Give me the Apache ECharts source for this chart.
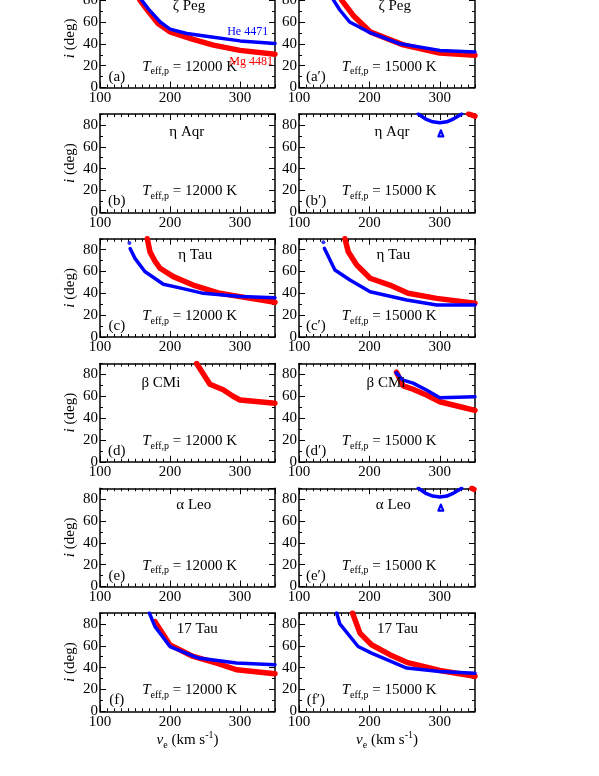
<!DOCTYPE html>
<html>
<head>
<meta charset="utf-8">
<script src="https://cdn.jsdelivr.net/npm/echarts@6/dist/echarts.min.js"></script>
<style>
html, body { margin: 0; padding: 0; background: #fff; }
#wrap { position: relative; width: 599px; height: 776px; overflow: hidden; }
#chart { position: absolute; left: 0; top: -11px; width: 599px; height: 787px; }
</style>
</head>
<body>
<div id="wrap"><div id="chart"></div></div>
<script>
// axes
var xMin = 100, xMax = 350, xMajor = 100, xMinorStep = 10;
var yMin = 0, yMax = 90, yMajor = 20, yMinorStep = 10;

var stars = ['ζ Peg', 'η Aqr', 'η Tau', 'β CMi', 'α Leo', '17 Tau'];
var tags = ['a', 'b', 'c', 'd', 'e', 'f'];
var temps = ['12000', '15000'];
var lineNames = ['He 4471', 'Mg 4481'];

// curves [v_e, i]  (12 = Teff,p 12000 K, 15 = 15000 K)
var zetaPegHe12 = [[153, 90], [159.5, 80], [169, 72], [186, 60], [200, 53.5], [224, 49.5], [257, 46.4], [300, 42.7], [350, 40.3]];
var zetaPegMg12 = [[151, 90], [157, 80], [167.6, 71], [183, 58.7], [200, 51], [233, 44], [262, 38.8], [300, 34], [350, 30.5]];
var zetaPegHe15 = [[143, 90], [149, 80], [158, 71], [172, 60], [201, 50.2], [243.5, 40], [300, 34], [350, 32.5]];
var zetaPegMg15 = [[155, 90], [160.6, 80], [177, 66], [201, 51], [248, 39], [300, 31.5], [350, 29.5]];

var etaAqrHe15 = [[269.5, 90], [281, 85], [290, 82.8], [300, 82], [310, 82.8], [318, 85], [331, 90]];
var etaAqrHeLoop15 = [[298, 69.5], [301.5, 75], [305, 69.5], [298, 69.5]];
var etaAqrMg15 = [[341, 90], [350, 88]];

var etaTauHe12 = [[143, 81], [150, 72], [164, 60], [190.5, 48.3], [214, 45], [247.6, 40], [300, 37], [350, 36]];
var etaTauHeDot12 = [[142, 86]];
var etaTauMg12 = [[167.6, 90], [171.4, 78], [178, 70], [185.7, 63], [204.8, 55.3], [233, 47.6], [271, 40], [300, 37], [350, 31.8]];
var etaTauHe15 = [[136, 81.2], [151, 61.4], [172.4, 52.2], [201, 41.5], [253, 33.9], [295.6, 29.3], [350, 29.3]];
var etaTauHeDot15 = [[134.6, 86.7]];
var etaTauMg15 = [[165.3, 90], [170, 78], [182, 66], [201, 53.8], [229, 47.6], [255, 40], [295.6, 35.4], [350, 30.9]];

var betaCMiMg12 = [[238, 90], [257, 71], [276, 66], [290, 60], [300, 56.6], [350, 53.5]];
var betaCMiHe15 = [[238, 81.5], [247, 75], [262, 72], [281, 65.7], [300, 58.7], [350, 59.6]];
var betaCMiMg15 = [[238.5, 82], [248, 69.5], [262, 66.4], [281, 61.1], [300, 55], [329, 50.4], [350, 47]];

var alphaLeoHe15 = [[269.5, 90], [281, 85], [290, 82.8], [300, 82], [310, 82.8], [318, 85], [331, 90]];
var alphaLeoHeLoop15 = [[298, 69.5], [301.5, 75], [305, 69.5], [298, 69.5]];
var alphaLeoMg15 = [[345.5, 90], [348.5, 89]];

var tau17He12 = [[170.5, 90], [178.6, 77.5], [200, 59.3], [240.5, 48.7], [295, 44.1], [350, 42.6]];
var tau17Mg12 = [[178.6, 82], [200, 60.8], [233, 50.2], [266.7, 44.1], [295, 38], [350, 34.4]];
var tau17He15 = [[153.5, 90], [158, 80], [184, 59.3], [203, 53.3], [253, 39.6], [300, 36.4], [350, 34.9]];
var tau17Mg15 = [[176, 90], [186.6, 71.6], [203, 60.9], [229, 51.8], [253, 44.8], [300, 37.3], [350, 32]];

// panel table, row by row, left (12000 K) then right (15000 K)
var panels = [
  { he: [zetaPegHe12], mg: [zetaPegMg12], dots: [] },
  { he: [zetaPegHe15], mg: [zetaPegMg15], dots: [] },
  { he: [], mg: [], dots: [] },
  { he: [etaAqrHe15], loops: [etaAqrHeLoop15], mg: [etaAqrMg15], dots: [] },
  { he: [etaTauHe12], mg: [etaTauMg12], dots: etaTauHeDot12 },
  { he: [etaTauHe15], mg: [etaTauMg15], dots: etaTauHeDot15 },
  { he: [], mg: [betaCMiMg12], dots: [] },
  { he: [betaCMiHe15], mg: [betaCMiMg15], dots: [] },
  { he: [], mg: [], dots: [] },
  { he: [alphaLeoHe15], loops: [alphaLeoHeLoop15], mg: [alphaLeoMg15], dots: [] },
  { he: [tau17He12], mg: [tau17Mg12], dots: [] },
  { he: [tau17He15], mg: [tau17Mg15], dots: [] }
];

// where the star name sits in each panel (data coords)
var nameAt = [[227, 74.5], [236, 74.5], [224, 73], [232, 73], [236, 75], [234, 75],
              [187, 72], [223.5, 72], [234, 74.5], [234, 74.5], [239, 75.3], [240, 75.3]];

var FONT = '"Liberation Serif", "DejaVu Serif", serif';
var BLUE = '#0000ff', RED = '#ff0000';

var chart = echarts.init(document.getElementById('chart'));
var option = { animation: false, grid: [], xAxis: [], yAxis: [], series: [] };

function tickAxis(base) {
  return Object.assign({
    type: 'value',
    splitLine: { show: false },
    axisLine: { show: false, onZero: false },
    axisLabel: { show: false },
    axisTick: { show: true, inside: true, length: 3, lineStyle: { color: '#000', width: 1 } }
  }, base);
}

function curve(g, d, color, width, z) {
  return {
    type: 'line', xAxisIndex: 4 * g, yAxisIndex: 4 * g, data: d, symbol: 'none', silent: true, z: z,
    lineStyle: { color: color, width: width, cap: 'round', join: 'round' }
  };
}

for (var g = 0; g < 12; g++) {
  var r = Math.floor(g / 2), c = g % 2;
  option.grid.push({
    left: c ? 299 : 100, width: c ? 176 : 175,
    top: 0.25 + r * 124.75, height: 98.25,
    outerBoundsMode: 'none', containLabel: false
  });
  var frame = { show: true, onZero: false, lineStyle: { color: '#000', width: 1.5 } };
  var majorTick = { show: true, inside: true, length: 6, lineStyle: { color: '#000', width: 1 } };
  // x: bottom major, bottom minor, top major, top minor
  option.xAxis.push(tickAxis({
    gridIndex: g, position: 'bottom', min: xMin, max: xMax, interval: xMajor,
    axisLine: frame, axisTick: majorTick,
    axisLabel: { show: true, margin: 3, color: '#000', fontSize: 15, fontFamily: FONT, showMaxLabel: false },
    name: r === 5 ? '{v|v}{e|e} (km s{p|-1})' : '',
    nameLocation: 'middle', nameGap: 16,
    nameTextStyle: {
      color: '#000', fontSize: 15, fontFamily: FONT, lineHeight: 20,
      rich: {
        v: { fontStyle: 'italic', fontSize: 15, fontFamily: FONT, lineHeight: 20 },
        e: { fontSize: 10, fontFamily: FONT, lineHeight: 10, verticalAlign: 'bottom' },
        p: { fontSize: 10, fontFamily: FONT, lineHeight: 10, verticalAlign: 'top' }
      }
    }
  }));
  option.xAxis.push(tickAxis({ gridIndex: g, position: 'bottom', min: xMin, max: xMax, interval: xMinorStep }));
  option.xAxis.push(tickAxis({ gridIndex: g, position: 'top', min: xMin, max: xMax, interval: xMajor, axisLine: frame, axisTick: majorTick }));
  option.xAxis.push(tickAxis({ gridIndex: g, position: 'top', min: xMin, max: xMax, interval: xMinorStep }));
  // y: left major, left minor, right major, right minor
  option.yAxis.push(tickAxis({
    gridIndex: g, position: 'left', min: yMin, max: yMax, interval: yMajor,
    axisLine: frame, axisTick: majorTick,
    axisLabel: { show: true, margin: 2, color: '#000', fontSize: 15, fontFamily: FONT, showMaxLabel: false },
    name: c === 0 ? '{i|i} (deg)' : '',
    nameLocation: 'middle', nameGap: 22, nameRotate: 90,
    nameTextStyle: {
      color: '#000', fontSize: 15, fontFamily: FONT,
      rich: { i: { fontStyle: 'italic', fontSize: 15, fontFamily: FONT } }
    }
  }));
  option.yAxis.push(tickAxis({ gridIndex: g, position: 'left', min: yMin, max: yMax, interval: yMinorStep }));
  option.yAxis.push(tickAxis({ gridIndex: g, position: 'right', min: yMin, max: yMax, interval: yMajor, axisLine: frame, axisTick: majorTick }));
  option.yAxis.push(tickAxis({ gridIndex: g, position: 'right', min: yMin, max: yMax, interval: yMinorStep }));

  var p = panels[g];
  p.mg.forEach(function (d) { option.series.push(curve(g, d, RED, 5.5, 2)); });
  p.he.forEach(function (d) { option.series.push(curve(g, d, BLUE, 3.5, 3)); });
  (p.loops || []).forEach(function (d) { option.series.push(curve(g, d, BLUE, 2.2, 3)); });
  if (p.dots.length) {
    option.series.push({
      type: 'scatter', xAxisIndex: 4 * g, yAxisIndex: 4 * g, data: p.dots, symbolSize: 4, silent: true, z: 3,
      itemStyle: { color: BLUE }
    });
  }

  // annotations
  var texts = [
    { value: nameAt[g], label: { formatter: stars[r] } },
    { value: [228, 19], label: { formatter: '{t|T}{s|eff,p}{n| = ' + temps[c] + ' K}' } },
    { value: [124, 10], label: { formatter: '(' + tags[r] + (c ? '\u2032' : '') + ')' } }
  ];
  if (g === 0) {
    texts.push({ value: [311, 50.6], label: { formatter: lineNames[0], color: BLUE, fontSize: 12 } });
    texts.push({ value: [316, 23.2], label: { formatter: lineNames[1], color: RED, fontSize: 12 } });
  }
  option.series.push({
    type: 'scatter', xAxisIndex: 4 * g, yAxisIndex: 4 * g, data: texts, symbolSize: 0, silent: true, z: 5,
    itemStyle: { color: '#000' },
    label: {
      show: true, position: 'inside', color: '#000', opacity: 1,
      textBorderWidth: 0, textBorderColor: 'transparent',
      fontSize: 15, fontFamily: FONT, lineHeight: 20,
      rich: {
        t: { fontStyle: 'italic', fontSize: 15, fontFamily: FONT, lineHeight: 20 },
        s: { fontSize: 10, fontFamily: FONT, lineHeight: 10, verticalAlign: 'bottom' },
        n: { fontSize: 15, fontFamily: FONT, lineHeight: 20 }
      }
    }
  });
}

chart.setOption(option);
window.addEventListener('resize', function () { chart.resize(); });
</script>
</body>
</html>
